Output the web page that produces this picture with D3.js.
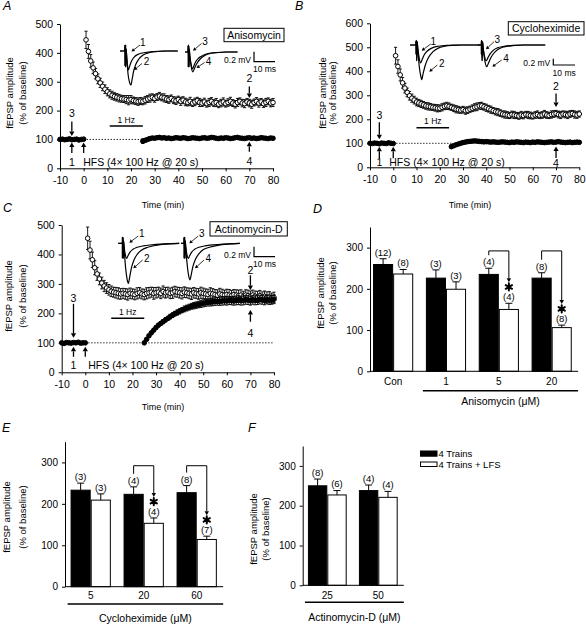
<!DOCTYPE html>
<html><head><meta charset="utf-8">
<script src="https://cdn.jsdelivr.net/npm/d3@7"></script>
<style>
body{margin:0;background:#fff;}
svg{display:block;}
</style></head><body>
<script>
// ================= DATA =================
const timeTicks = [-10,0,10,20,30,40,50,60,70,80];
const openStart = 1, baseStart = -10, postStart = 25;

// Panel A (Anisomycin)
const aOpen = [
445,405,372,348,328,310,296,284,274,265,
258,253,249,246,243,241,240,238,236,238,
235,233,231,233,232,236,240,243,246,242,
247,250,246,244,240,238,242,236,234,238,
232,236,230,228,232,226,230,234,228,226,
230,224,228,232,226,228,222,226,230,224,
228,232,226,222,228,232,226,224,230,226,
222,228,232,226,230,224,228,232,226,228];
const aOpenErr = [
30,24,22,20,18,17,16,15,15,14,
14,14,13,13,13,12,12,14,16,14,
12,12,13,12,12,13,12,14,12,13,
12,13,12,14,12,13,12,12,13,12,
14,12,13,12,14,12,13,12,14,12,
13,12,14,13,12,14,12,13,14,12,
13,14,12,13,14,12,13,14,12,13,
14,12,13,14,12,13,14,12,13,14];
const aBase = [100,101,99,100,102,99,100,101,98,100,101];
const aBaseErr = [4,3,4,3,4,3,4,3,4,3,4];
const aPost = [
94,97,100,103,105,104,106,107,105,106,
104,105,103,104,106,105,104,106,105,103,
104,106,105,104,103,105,106,104,105,107,
106,104,103,105,104,106,105,103,104,106,
107,105,104,103,105,106,104,105,103,104,
106,105,104,103,105,104];
const aPostErr = [
8,6,5,5,5,4,5,4,5,4,
5,4,5,4,5,4,5,4,5,4,
5,4,5,4,5,4,5,4,5,4,
5,4,5,4,5,4,5,4,5,4,
5,4,5,4,5,4,5,4,5,4,
5,4,5,4,5,4];

// Panel B (Cycloheximide)
const bOpen = [
465,420,385,352,330,312,298,288,280,272,
268,264,260,256,254,252,250,248,246,246,
250,254,256,254,250,246,242,240,238,240,
236,238,242,246,250,252,256,256,252,248,
244,240,236,232,230,226,222,220,218,216,
220,218,216,214,218,216,220,218,216,214,
218,220,216,218,222,218,216,220,222,224,
220,218,222,220,218,222,224,220,218,222];
const bOpenErr = [
35,28,25,22,20,18,18,17,16,16,
15,15,14,14,15,14,13,14,15,14,
15,14,15,14,13,14,15,14,13,14,
15,14,13,14,15,16,14,15,14,15,
14,15,13,14,15,14,13,15,14,13,
14,15,13,14,15,14,13,15,14,13,
14,15,13,14,15,14,13,15,14,13,
14,15,13,14,15,14,13,15,14,13];
const bBase = [100,99,101,100,98,101,100,99,102,100,99];
const bBaseErr = [4,3,4,3,4,3,4,3,4,3,4];
const bPost = [
86,90,94,97,100,103,105,107,108,109,
110,109,108,107,106,107,106,105,106,105,
104,105,106,105,104,103,105,104,106,105,
104,103,105,104,103,105,104,106,105,104,
103,104,105,106,104,105,107,105,104,103,
104,105,103,104,105,104];
const bPostErr = [
7,6,5,5,5,5,4,5,4,5,
4,5,4,5,4,5,4,5,4,5,
4,5,4,5,4,5,4,5,4,5,
4,5,4,5,4,5,4,5,4,5,
4,5,4,5,4,5,4,5,4,5,
4,5,4,5,4,5];

// Panel C (Actinomycin-D)
const cOpen = [
455,415,382,355,334,317,303,293,286,280,
275,272,270,268,266,268,266,264,268,266,
264,268,270,266,264,268,270,272,268,270,
272,268,274,270,272,268,270,274,272,270,
268,272,270,268,266,270,268,266,270,268,
266,264,268,266,264,262,266,264,262,264,
262,260,264,262,260,262,258,262,260,258,
262,258,256,260,256,258,254,256,252,254];
const cOpenErr = [
38,30,26,24,22,20,20,19,18,18,
18,17,18,19,18,17,18,19,18,17,
18,19,18,17,18,19,18,17,20,18,
17,18,19,18,17,18,19,18,17,18,
19,18,17,18,19,18,17,18,19,18,
17,18,19,18,17,18,19,18,17,18,
19,18,17,18,19,18,17,18,19,18,
17,18,19,18,17,18,19,18,17,18];
const cBase = [100,98,101,100,99,101,100,102,99,100,100];
const cBaseErr = [4,3,4,3,4,3,4,3,4,3,4];
const cPost = [
100,112,124,134,143,152,160,166,172,178,
183,189,194,199,203,207,211,215,218,221,
224,226,228,230,232,234,236,237,238,239,
240,241,240,242,243,242,244,243,242,244,
245,243,244,246,245,243,246,244,245,247,
246,244,247,245,246,248];
const cPostErr = [
3,4,4,5,5,6,6,6,7,7,
7,8,8,8,9,9,9,10,10,10,
10,11,11,11,12,12,12,12,13,13,
13,13,13,14,14,14,14,14,14,15,
15,15,15,15,15,15,15,15,15,15,
15,15,15,15,15,15];

// Inset traces: [ms, mV]
const aTrace1 = [[0,0],[2.4,0],[2.5,0.12],[2.7,-0.32],[2.9,0.04],[3.2,-0.12],[3.6,-0.3],[4,-0.38],[4.6,-0.3],[5.5,-0.2],[7,-0.11],[9,-0.06],[12,-0.03],[16,-0.01],[20,0],[27.5,0]];
const aTrace2 = [[0,0],[2.4,0],[2.5,0.12],[2.7,-0.32],[2.9,0.04],[3.2,-0.12],[3.8,-0.45],[4.5,-0.62],[5.2,-0.68],[5.8,-0.56],[6.5,-0.4],[7.5,-0.27],[9,-0.16],[11,-0.08],[14,-0.03],[18,-0.01],[22,0],[27.5,0]];
const aTrace3 = [[0,0],[1.5,0],[1.6,0.14],[1.8,-0.3],[2.0,0.06],[2.3,-0.08],[2.8,-0.22],[3.5,-0.34],[4.2,-0.28],[5,-0.2],[6.5,-0.12],[8.5,-0.07],[11,-0.03],[15,-0.01],[19,0],[25,0]];
const aTrace4 = [[0,0],[1.5,0],[1.6,0.14],[1.8,-0.3],[2.0,0.06],[2.3,-0.08],[2.9,-0.28],[3.7,-0.4],[4.5,-0.33],[5.5,-0.24],[7,-0.15],[9,-0.08],[12,-0.03],[16,-0.01],[20,0],[25,0]];
const bTrace1 = [[0,0],[2.8,0],[2.9,0.15],[3.1,-0.5],[3.3,0.1],[3.6,-0.1],[4.2,-0.4],[4.9,-0.57],[5.6,-0.46],[6.5,-0.32],[8,-0.19],[10,-0.1],[13,-0.04],[17,-0.01],[22,0],[32,0]];
const bTrace2 = [[0,0],[2.8,0],[2.9,0.15],[3.1,-0.5],[3.3,0.1],[3.6,-0.15],[4.3,-0.7],[5,-1.0],[5.4,-1.1],[6,-0.92],[7,-0.65],[8.5,-0.4],[10.5,-0.22],[13,-0.1],[16,-0.04],[20,-0.01],[24,0],[32,0]];
const bTrace3 = [[0,0],[1.6,0],[1.7,0.15],[1.9,-0.5],[2.1,0.1],[2.4,-0.1],[3,-0.35],[3.8,-0.5],[4.6,-0.4],[5.6,-0.28],[7,-0.17],[9,-0.09],[12,-0.04],[16,-0.01],[21,0],[31,0]];
const bTrace4 = [[0,0],[1.6,0],[1.7,0.15],[1.9,-0.5],[2.1,0.1],[2.4,-0.12],[3.1,-0.48],[4,-0.69],[4.8,-0.58],[5.8,-0.42],[7.2,-0.27],[9,-0.15],[12,-0.06],[16,-0.02],[21,0],[31,0]];
const cTrace1 = [[0,0],[2,0],[2.1,0.12],[2.3,-0.3],[2.5,0.05],[2.8,-0.08],[3.4,-0.24],[4,-0.3],[4.6,-0.25],[5.5,-0.18],[7,-0.12],[9,-0.08],[12,-0.05],[16,-0.03],[20,-0.015],[25,-0.005],[29,0]];
const cTrace2 = [[0,0],[2,0],[2.1,0.12],[2.3,-0.3],[2.5,0.05],[2.8,-0.12],[3.5,-0.5],[4.2,-0.72],[4.8,-0.8],[5.4,-0.68],[6.2,-0.5],[7.5,-0.33],[9,-0.22],[11,-0.14],[14,-0.08],[18,-0.04],[23,-0.015],[29,0]];
const cTrace3 = [[0,0],[1.5,0],[1.6,0.12],[1.8,-0.3],[2,0.05],[2.3,-0.08],[2.9,-0.24],[3.5,-0.3],[4.1,-0.25],[5,-0.18],[6.5,-0.12],[8.5,-0.08],[11.5,-0.05],[15.5,-0.03],[20,-0.015],[28,0]];
const cTrace4 = [[0,0],[1.5,0],[1.6,0.12],[1.8,-0.3],[2,0.05],[2.3,-0.12],[3,-0.45],[3.7,-0.66],[4.3,-0.73],[4.9,-0.62],[5.7,-0.46],[7,-0.31],[8.5,-0.21],[10.5,-0.13],[13.5,-0.08],[17.5,-0.04],[22,-0.015],[28,0]];

// Bar panels
const barTicks = [0,100,200,300];
const seriesNames = ["4 Trains","4 Trains + LFS"];
const dGroups = ["Con","1","5","20"];
const dTrains = [259,226,235,226];
const dTrainsErr = [14,20,15,13];
const dLfs = [236,199,150,106];
const dLfsErr = [11,18,15,6];
const dNTrains = ["(12)","(3)","(4)","(8)"];
const dNLfs = ["(8)","(3)","(4)","(8)"];
const dSig = [false,false,true,true];

const eGroups = ["5","20","60"];
const eTrains = [233,223,227];
const eTrainsErr = [17,18,17];
const eLfs = [209,153,114];
const eLfsErr = [15,13,8];
const eNTrains = ["(3)","(4)","(8)"];
const eNLfs = ["(3)","(4)","(7)"];
const eSig = [false,true,true];

const fGroups = ["25","50"];
const fTrains = [250,238];
const fTrainsErr = [17,14];
const fLfs = [227,221];
const fLfsErr = [11,15];
const fNTrains = ["(8)","(4)"];
const fNLfs = ["(6)","(4)"];
const fSig = [false,false];

// ================= DRAWING =================
const FONT = '"Liberation Sans", Arial, Helvetica, sans-serif';
const svg = d3.select('body').append('svg').attr('width',586).attr('height',624)
  .attr('font-family',FONT);

function txt(g,x,y,s,size,anchor,opts){
  const t = g.append('text').attr('x',x).attr('y',y).attr('font-size',size)
    .attr('text-anchor',anchor||'middle').attr('fill','#000').text(s);
  if(opts&&opts.italic) t.attr('font-style','italic');
  if(opts&&opts.bold) t.attr('font-weight','bold');
  return t;
}
function styleAxis(sel,size){
  sel.attr('font-family',FONT).attr('font-size',size);
  sel.selectAll('.domain').attr('stroke','#000').attr('stroke-width',1);
  sel.selectAll('.tick line').attr('stroke','#000');
  sel.selectAll('.tick text').attr('fill','#000');
}
function arrow(g,x1,y1,x2,y2,hl,hw,sw){
  hl=hl||4; hw=hw||2.2; sw=sw||1;
  const dx=x2-x1, dy=y2-y1, L=Math.hypot(dx,dy), ux=dx/L, uy=dy/L;
  const bx=x2-ux*hl, by=y2-uy*hl;
  g.append('line').attr('x1',x1).attr('y1',y1).attr('x2',bx).attr('y2',by)
    .attr('stroke','#000').attr('stroke-width',sw);
  g.append('path').attr('d',`M${x2},${y2}L${bx-uy*hw},${by+ux*hw}L${bx+uy*hw},${by-ux*hw}Z`).attr('fill','#000');
}
function yTitle(g,cx1,cx2,cy,size){
  g.append('text').attr('transform',`translate(${cx1},${cy}) rotate(-90)`).attr('dy','0.35em')
    .attr('text-anchor','middle').attr('font-size',size).text('fEPSP amplitude');
  g.append('text').attr('transform',`translate(${cx2},${cy}) rotate(-90)`).attr('dy','0.35em')
    .attr('text-anchor','middle').attr('font-size',size).text('(% of baseline)');
}

function drawSeries(g,x,y,pts,fill){
  const s = g.append('g');
  s.selectAll('line.v').data(pts).join('line').attr('class','v')
    .attr('x1',d=>x(d.t)).attr('x2',d=>x(d.t)).attr('y1',d=>y(d.v-d.e)).attr('y2',d=>y(d.v+d.e))
    .attr('stroke','#000').attr('stroke-width',0.9);
  s.selectAll('line.ct').data(pts).join('line').attr('class','ct')
    .attr('x1',d=>x(d.t)-1.6).attr('x2',d=>x(d.t)+1.6).attr('y1',d=>y(d.v+d.e)).attr('y2',d=>y(d.v+d.e))
    .attr('stroke','#000').attr('stroke-width',0.9);
  s.selectAll('line.cb').data(pts).join('line').attr('class','cb')
    .attr('x1',d=>x(d.t)-1.6).attr('x2',d=>x(d.t)+1.6).attr('y1',d=>y(d.v-d.e)).attr('y2',d=>y(d.v-d.e))
    .attr('stroke','#000').attr('stroke-width',0.9);
  s.selectAll('circle').data(pts).join('circle')
    .attr('cx',d=>x(d.t)).attr('cy',d=>y(d.v)).attr('r',2.3)
    .attr('fill',fill).attr('stroke','#000').attr('stroke-width',1);
}

function inset(g,o){
  o.pairs.forEach(p=>{
    const xs = d3.scaleLinear().domain([0,10]).range([p.x0,p.x0+10*o.pxMs]);
    const ys = d3.scaleLinear().domain([0,-0.2]).range([p.base,p.base+0.2*o.pxMv]);
    const ln = d3.line().x(d=>xs(d[0])).y(d=>ys(d[1])).curve(d3.curveMonotoneX);
    p.traces.forEach(tr=>g.append('path').attr('d',ln(tr)).attr('fill','none')
      .attr('stroke','#000').attr('stroke-width',1.2));
    g.append('line').attr('x1',xs(p.art)).attr('x2',xs(p.art))
      .attr('y1',ys(0.12)).attr('y2',ys(-0.3)).attr('stroke','#000').attr('stroke-width',2);
  });
  o.labels.forEach(l=>{
    txt(g,l.x,l.y,l.s,10,'middle');
    arrow(g,l.ax1,l.ay1,l.ax2,l.ay2,3.2,1.8,0.8);
  });
  const sb=o.sb;
  g.append('path').attr('d',`M${sb.x},${sb.y-0.2*o.pxMv}V${sb.y}H${sb.x+10*o.pxMs}`)
    .attr('fill','none').attr('stroke','#000').attr('stroke-width',1.2);
  txt(g,sb.x-3,sb.y+0.8,'0.2 mV',8.5,'end');
  txt(g,sb.x+5*o.pxMs,sb.y+10.5,'10 ms',8.5,'middle');
}

function timeCourse(o){
  const g = svg.append('g');
  const x = d3.scaleLinear().domain([timeTicks[0],timeTicks[timeTicks.length-1]]).range([o.left,o.right]);
  const y = d3.scaleLinear().domain([0,o.yMax]).range([o.bottom,o.top]);
  const xa = g.append('g').attr('transform',`translate(0,${o.bottom})`)
    .call(d3.axisBottom(x).tickValues(timeTicks).tickFormat(d=>String(d)).tickSize(3).tickSizeOuter(0).tickPadding(5));
  styleAxis(xa,10.5);
  const ya = g.append('g').attr('transform',`translate(${o.left},0)`)
    .call(d3.axisLeft(y).tickValues(o.yTicks).tickSize(3).tickSizeOuter(0).tickPadding(4));
  styleAxis(ya,10.5);
  txt(g,o.xtX,o.xtY,'Time (min)',9,'middle');
  yTitle(g,o.yt1,o.yt2,o.ytY,9.5);
  txt(g,o.letter[0],o.letter[1],o.letter[2],12.5,'start',{italic:true});

  g.append('line').attr('x1',x(0)).attr('x2',x(o.dotEnd)).attr('y1',y(100)).attr('y2',y(100))
    .attr('stroke','#000').attr('stroke-width',1).attr('stroke-dasharray','1.2,1.8');

  const openPts = o.open.map((v,i)=>({t:openStart+i,v,e:o.openErr[i]}));
  const basePts = o.base.map((v,i)=>({t:baseStart+i,v,e:o.baseErr[i]}));
  const postPts = o.post.map((v,i)=>({t:postStart+i,v,e:o.postErr[i]}));
  drawSeries(g,x,y,openPts,'#fff');
  drawSeries(g,x,y,basePts.concat(postPts),'#000');

  g.append('line').attr('x1',x(o.hz[0])).attr('x2',x(o.hz[1])).attr('y1',o.hzY).attr('y2',o.hzY)
    .attr('stroke','#000').attr('stroke-width',1.4);
  txt(g,(x(o.hz[0])+x(o.hz[1]))/2,o.hzY-3.5,'1 Hz',8.5,'middle');

  const y100 = y(100);
  const x5 = x(-5)+o.m5dx;
  txt(g,x5,y100-o.a3[0],'3',10.5,'middle');
  arrow(g,x5,y100-o.a3[1],x5,y100-o.a3[2],4.5,2.6,1.3);
  [x5,x(0)].forEach(xx=>arrow(g,xx,y100+o.up[1],xx,y100+o.up[0],4.5,2.6,1.3));
  txt(g,x5,o.hfsY,'1',10.5,'middle');
  txt(g,x(0)+o.hfsDx,o.hfsY,'HFS (4\u00d7 100 Hz @ 20 s)',10.5,'start');

  const v2 = o.open[70-openStart], v4 = o.post[70-postStart];
  const y2 = y(v2), y4 = y(v4);
  txt(g,x(70),y2-o.a2[0],'2',10.5,'middle');
  arrow(g,x(70),y2-o.a2[1],x(70),y2-o.a2[2],4.5,2.6,1.3);
  arrow(g,x(70),y4+o.a4[1],x(70),y4+o.a4[0],4.5,2.6,1.3);
  txt(g,x(70),y4+o.a4[2],'4',10.5,'middle');

  const nb=o.nameBox;
  g.append('rect').attr('x',nb.x).attr('y',nb.y).attr('width',nb.w).attr('height',nb.h)
    .attr('fill','#fff').attr('stroke','#000').attr('stroke-width',1);
  txt(g,nb.x+nb.w/2,nb.y+nb.h/2+3.8,nb.s,10.5,'middle');

  inset(g,o.inset);
}

timeCourse({
  left:60,right:273,top:24,bottom:168.3,yMax:500,yTicks:[0,100,200,300,400,500],
  open:aOpen,openErr:aOpenErr,base:aBase,baseErr:aBaseErr,post:aPost,postErr:aPostErr,
  xtX:163,xtY:207.5,yt1:9.5,yt2:22.5,ytY:93,letter:[3,10,'A'],
  dotEnd:25,hz:[11,25],hzY:126,m5dx:0,
  a3:[22.5,18,3.5],up:[3,13.5],hfsY:165.5,hfsDx:-0.5,
  a2:[21,16.5,5],a4:[4,14,27.5],
  nameBox:{x:224,y:28.3,w:60,h:13.4,s:'Anisomycin'},
  inset:{pxMs:2.1,pxMv:50,
    pairs:[{x0:120,base:51,art:2.5,traces:[aTrace1,aTrace2]},{x0:185,base:52,art:1.7,traces:[aTrace3,aTrace4]}],
    labels:[{s:'1',x:142.7,y:46,ax1:140,ay1:45,ax2:131.5,ay2:51.5},
            {s:'2',x:146.5,y:65,ax1:142,ay1:63.5,ax2:134,ay2:70},
            {s:'3',x:205,y:45,ax1:201.5,ay1:43.5,ax2:193,ay2:50.7},
            {s:'4',x:208.5,y:65,ax1:204.5,ay1:62.5,ax2:196.5,ay2:68}],
    sb:{x:254,y:61.7}}
});

timeCourse({
  left:370,right:579.3,top:23.3,bottom:167.3,yMax:600,yTicks:[0,100,200,300,400,500,600],
  open:bOpen,openErr:bOpenErr,base:bBase,baseErr:bBaseErr,post:bPost,postErr:bPostErr,
  xtX:470,xtY:207.5,yt1:322.5,yt2:332.5,ytY:93,letter:[295,9.5,'B'],
  dotEnd:25,hz:[10,24],hzY:127.7,m5dx:-2.3,
  a3:[24,21,4],up:[3.4,15],hfsY:165.5,hfsDx:-4,
  a2:[24,20,6.5],a4:[4.5,16,25],
  nameBox:{x:508.3,y:21.7,w:75.7,h:13.3,s:'Cycloheximide'},
  inset:{pxMs:2.17,pxMv:31.5,
    pairs:[{x0:410,base:45,art:2.9,traces:[bTrace1,bTrace2]},{x0:478,base:45,art:1.7,traces:[bTrace3,bTrace4]}],
    labels:[{s:'1',x:433.3,y:45,ax1:430.7,ay1:44,ax2:421.7,ay2:50.7},
            {s:'2',x:441.7,y:67,ax1:437.3,ay1:65,ax2:429.3,ay2:71.7},
            {s:'3',x:497.3,y:43,ax1:494,ay1:41.7,ax2:486,ay2:49.3},
            {s:'4',x:506,y:62,ax1:501.7,ay1:60,ax2:492.3,ay2:66.7}],
    sb:{x:553.3,y:65}}
});

timeCourse({
  left:61.7,right:274,top:225,bottom:372.3,yMax:500,yTicks:[0,100,200,300,400,500],
  open:cOpen,openErr:cOpenErr,base:cBase,baseErr:cBaseErr,post:cPost,postErr:cPostErr,
  xtX:163,xtY:409.5,yt1:9,yt2:22.5,ytY:296,letter:[3,211.5,'C'],
  dotEnd:80,hz:[11,25],hzY:318.3,m5dx:0,
  a3:[41,39,5],up:[4,14],hfsY:368.8,hfsDx:3,
  a2:[22,21,6.3],a4:[9.3,21,36],
  nameBox:{x:210,y:221.7,w:77.3,h:14.3,s:'Actinomycin-D'},
  inset:{pxMs:2.1,pxMv:50,
    pairs:[{x0:118.3,base:243.3,art:2.1,traces:[cTrace1,cTrace2]},{x0:181,base:243.3,art:1.6,traces:[cTrace3,cTrace4]}],
    labels:[{s:'1',x:141.7,y:236.8,ax1:138.3,ay1:236,ax2:129.3,ay2:242.7},
            {s:'2',x:146.7,y:261.8,ax1:142.7,ay1:260,ax2:133.3,ay2:268.3},
            {s:'3',x:201.7,y:236.8,ax1:198.3,ay1:236,ax2:189.3,ay2:243.3},
            {s:'4',x:208.3,y:261.8,ax1:204,ay1:260,ax2:195,ay2:268.3}],
    sb:{x:254,y:256.7}}
});

// significance star drawn as a symbol mark
const starType = d3.symbolAsterisk || d3.symbolCross;
function star(g,cx,cy){
  g.append('path').attr('d',d3.symbol().type(starType).size(36)())
    .attr('transform',`translate(${cx},${cy})`)
    .attr('fill','#000').attr('stroke','#000').attr('stroke-width',2).attr('stroke-linecap','round');
}

function barPanel(o){
  const g = svg.append('g');
  const x = d3.scaleBand().domain(o.groups).range([o.r0,o.r1]).paddingInner(0.24).paddingOuter(0.12);
  const xs = d3.scaleBand().domain(seriesNames).range([0,x.bandwidth()]);
  const y = d3.scaleLinear().domain([0,350]).range([o.bottom,o.top]);
  const ya = g.append('g').attr('transform',`translate(${o.axisX},0)`)
    .call(d3.axisLeft(y).tickValues(barTicks).tickSize(3).tickSizeOuter(0).tickPadding(4));
  styleAxis(ya,10);
  yTitle(g,o.yt1,o.yt2,o.ytY,9.5);
  txt(g,o.letter[0],o.letter[1],o.letter[2],12.5,'start',{italic:true});

  const rows = o.groups.map((gname,i)=>({g:gname,i,
    bars:[{s:seriesNames[0],v:o.trains[i],e:o.trainsErr[i],n:o.nTrains[i],fill:'#000'},
          {s:seriesNames[1],v:o.lfs[i],e:o.lfsErr[i],n:o.nLfs[i],fill:'#fff'}]}));
  rows.forEach(r=>{
    r.bars.forEach(b=>{
      const bx = x(r.g)+xs(b.s), cx = bx+xs.bandwidth()/2;
      g.append('line').attr('x1',cx).attr('x2',cx).attr('y1',y(b.v)).attr('y2',y(b.v+b.e))
        .attr('stroke','#000').attr('stroke-width',1);
      g.append('line').attr('x1',cx-3.5).attr('x2',cx+3.5).attr('y1',y(b.v+b.e)).attr('y2',y(b.v+b.e))
        .attr('stroke','#000').attr('stroke-width',1);
      g.append('rect').attr('x',bx+0.5).attr('y',y(b.v)).attr('width',xs.bandwidth()-1)
        .attr('height',o.bottom-y(b.v)).attr('fill',b.fill).attr('stroke','#000').attr('stroke-width',1);
      txt(g,cx,y(b.v+b.e)-3.1,b.n,9.5,'middle');
    });
    if(o.sig[r.i]){
      const b0=r.bars[0], b1=r.bars[1];
      const c0 = x(r.g)+xs(b0.s)+xs.bandwidth()/2, c1 = x(r.g)+xs(b1.s)+xs.bandwidth()/2;
      const top = y(292), yl = y(b0.v+b0.e)-13, yr = y(b1.v+b1.e);
      g.append('path').attr('d',`M${c0},${yl}V${top}H${c1}`).attr('fill','none')
        .attr('stroke','#000').attr('stroke-width',1);
      arrow(g,c1,top,c1,yr-21,4,2.2,1);
      star(g,c1,yr-16.3);
    }
  });
  g.append('line').attr('x1',o.axisX).attr('x2',o.r1).attr('y1',o.bottom).attr('y2',o.bottom)
    .attr('stroke','#000').attr('stroke-width',1);
  o.groups.forEach(gn=>txt(g,x(gn)+x.bandwidth()/2,o.catY,gn,10,'middle'));
  const u0 = x(o.groups[o.drugFrom])-3;
  g.append('line').attr('x1',u0).attr('x2',o.r1).attr('y1',o.ulY).attr('y2',o.ulY)
    .attr('stroke','#000').attr('stroke-width',1.5);
  txt(g,(u0+o.r1)/2,o.drugY,o.drug,10.5,'middle');
  return g;
}

barPanel({groups:dGroups,trains:dTrains,trainsErr:dTrainsErr,lfs:dLfs,lfsErr:dLfsErr,
  nTrains:dNTrains,nLfs:dNLfs,sig:dSig,
  r0:366.7,r1:578.1,axisX:370,top:227,bottom:371.3,
  yt1:321,yt2:332.5,ytY:293,letter:[313,212.5,'D'],
  catY:385.3,drugFrom:1,ulY:390.7,drugY:404.5,drug:'Anisomycin (\u03bcM)'});

barPanel({groups:eGroups,trains:eTrains,trainsErr:eTrainsErr,lfs:eLfs,lfsErr:eLfsErr,
  nTrains:eNTrains,nLfs:eNLfs,sig:eSig,
  r0:64.2,r1:223.2,axisX:65,top:441.7,bottom:586.7,
  yt1:6.7,yt2:22.5,ytY:517,letter:[2,431.7,'E'],
  catY:598.6,drugFrom:0,ulY:604,drugY:622,drug:'Cycloheximide (\u03bcM)'});

barPanel({groups:fGroups,trains:fTrains,trainsErr:fTrainsErr,lfs:fLfs,lfsErr:fLfsErr,
  nTrains:fNTrains,nLfs:fNLfs,sig:fSig,
  r0:301.8,r1:403.8,axisX:302.7,top:446,bottom:585.3,
  yt1:253.3,yt2:265.5,ytY:529,letter:[248,431.7,'F'],
  catY:598.6,drugFrom:0,ulY:602.3,drugY:620.5,drug:'Actinomycin-D (\u03bcM)'});

// legend
const leg = svg.append('g');
seriesNames.forEach((s,i)=>{
  leg.append('rect').attr('x',420.5).attr('y',451+i*11).attr('width',16.5).attr('height',i?4.5:5.2)
    .attr('fill',i?'#fff':'#000').attr('stroke','#000').attr('stroke-width',1);
  txt(leg,438.5,456.5+i*11,s,9.5,'start');
});
</script></body></html>
